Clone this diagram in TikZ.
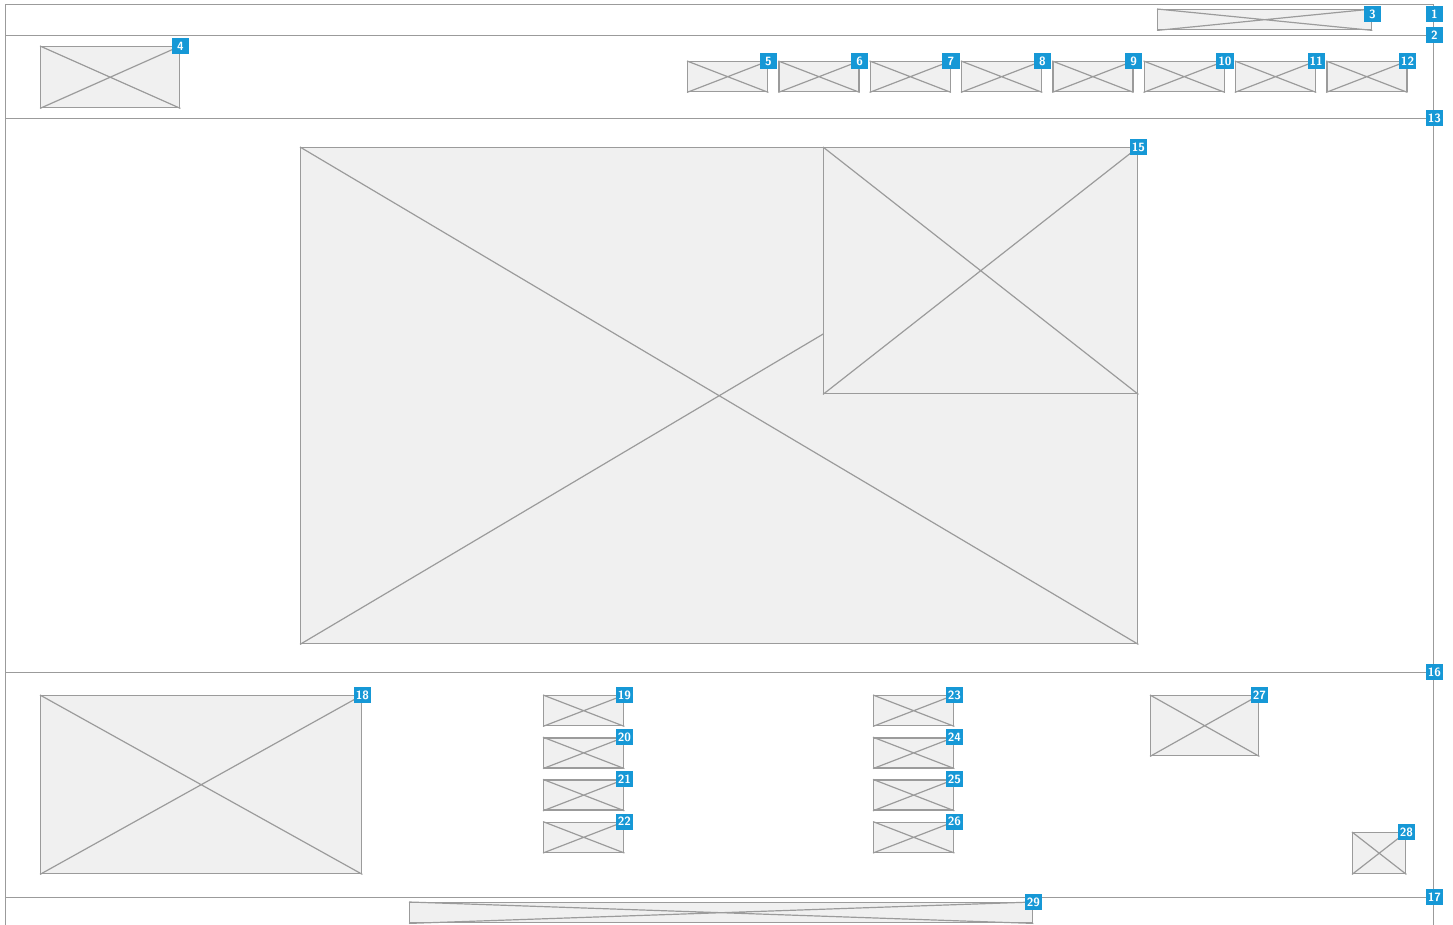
\documentclass[tikz,border=0pt]{standalone}
\usetikzlibrary{positioning}
\definecolor{ln}{RGB}{155,155,155}
\definecolor{pf}{RGB}{240,240,240}
\definecolor{bd}{RGB}{22,152,214}
\tikzset{ph/.style={draw=ln,fill=pf,line width=1pt,inner sep=0pt,anchor=north west},
 xl/.style={draw=ln,line width=.85pt},
 region/.style={draw=ln,line width=1pt,inner sep=0pt,anchor=north west,minimum width=1428*0.025cm},
 badge/.style={fill=bd,text=white,inner sep=0pt,minimum width=4.3mm,minimum height=4mm,
  font=\sffamily\bfseries\fontsize{8.5}{8.5}\selectfont}}
% placeholder box with cross: name, left, top, width, height (px)
\newcommand\xbox[5]{%
 \node[ph,minimum width=#4*0.025cm,minimum height=#5*0.025cm] (#1) at ({#2},{#3}) {};
 \draw[xl] (#1.north west)--(#1.south east) (#1.south west)--(#1.north east);}
\begin{document}
\begin{tikzpicture}[x=0.025cm,y=-0.025cm]
\path[use as bounding box] (0,0) rectangle (1453,925);
\clip (0,0) rectangle (1453,925);
% page regions
\node[region,minimum height=31*0.025cm] (r1) at (5,4) {};
\node[region,minimum height=83*0.025cm] (r2) at (5,35) {};
\node[region,minimum height=554*0.025cm] (r13) at (5,118) {};
\node[region,minimum height=225*0.025cm] (r16) at (5,672) {};
\node[region,minimum height=60*0.025cm] (r17) at (5,897) {};
% header
\xbox{b3}{1157}{9}{214}{20}
\xbox{b4}{40}{46}{139}{61}
\foreach \i in {5,...,12}{
 \xbox{b\i}{687+(\i-5)*91.3}{61}{80}{30}
 \node[badge] at (b\i.north east) {\i};}
% main image
\xbox{b14}{300}{147}{837}{496}
\xbox{b15}{823}{147}{314}{246}
% footer blocks
\xbox{b18}{40}{695}{321}{178}
\foreach \i [count=\k from 0] in {19,...,22}{
 \xbox{b\i}{543}{695+\k*42.2}{80}{30}
 \node[badge] at (b\i.north east) {\i};}
\foreach \i [count=\k from 0] in {23,...,26}{
 \xbox{b\i}{873}{695+\k*42.2}{80}{30}
 \node[badge] at (b\i.north east) {\i};}
\xbox{b27}{1150}{695}{108}{60}
\xbox{b28}{1352}{832}{53}{41}
\xbox{b29}{409}{902}{623}{20}
% badges
\node[badge,yshift=-2.5mm] at (r1.north east) {1};
\node[badge] at (r2.north east) {2};
\node[badge,yshift=-1.25mm] at (b3.north east) {3};
\node[badge] at (b4.north east) {4};
\node[badge] at (r13.north east) {13};
\node[badge] at (b15.north east) {15};
\node[badge] at (r16.north east) {16};
\node[badge] at (r17.north east) {17};
\node[badge] at (b18.north east) {18};
\node[badge] at (b27.north east) {27};
\node[badge] at (b28.north east) {28};
\node[badge] at (b29.north east) {29};
\end{tikzpicture}
\end{document}
